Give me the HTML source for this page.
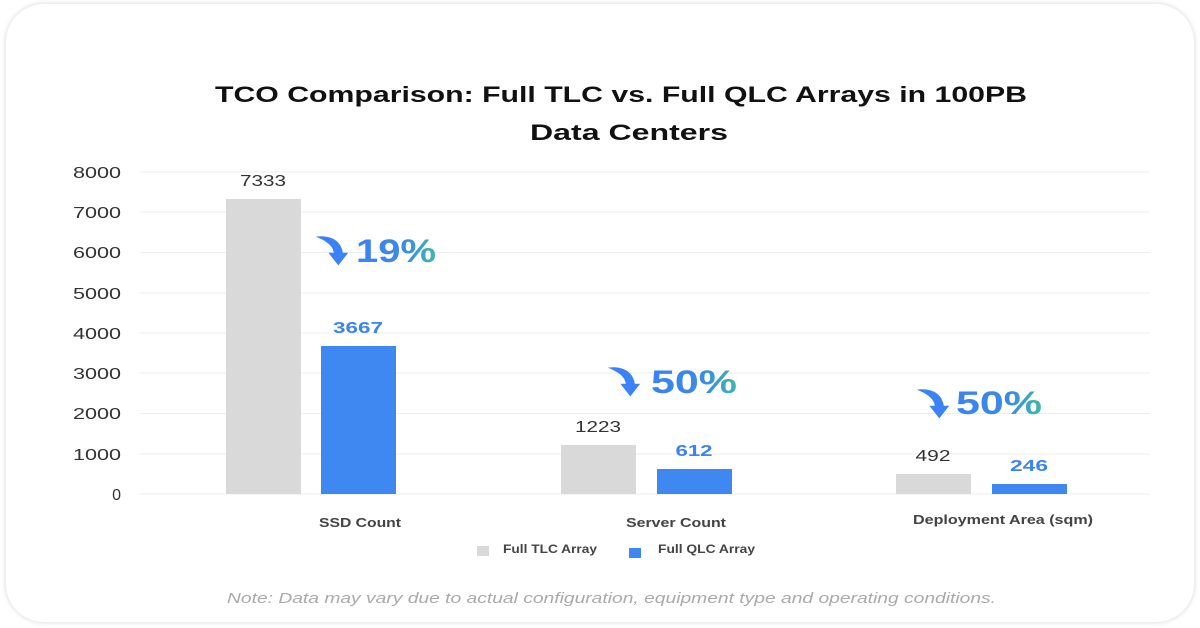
<!DOCTYPE html>
<html><head><meta charset="utf-8"><style>
body{margin:0;width:1200px;height:628px;background:#fff;overflow:hidden;font-family:"Liberation Sans",sans-serif}
.card{position:absolute;left:6px;top:4px;width:1188px;height:618px;border-radius:38px;box-shadow:0 0 4px 1px rgba(0,0,0,0.12);background:#fff}
</style></head><body>
<div class="card"></div>
<svg width="1200" height="628" style="position:absolute;left:0;top:0" font-family="Liberation Sans, sans-serif">
<defs>
<linearGradient id="g" x1="0" x2="1" y1="0" y2="0"><stop offset="0" stop-color="#3b82f6"/><stop offset="0.6" stop-color="#3b8ae6"/><stop offset="1" stop-color="#3fb8a8"/></linearGradient>
<symbol id="arr" viewBox="0 0 40 40"><path d="M2 4 C18 2 30 8 32 22 L38 22 L27 36 L16 22 L22 22 C21 14 14 9 2 4Z" fill="#3b82f6"/></symbol>
</defs>
<text x="215" y="102" textLength="812" lengthAdjust="spacingAndGlyphs" font-size="22" font-weight="bold" fill="#111">TCO Comparison: Full TLC vs. Full QLC Arrays in 100PB</text>
<text x="530" y="140" textLength="198" lengthAdjust="spacingAndGlyphs" font-size="22" font-weight="bold" fill="#111">Data Centers</text>
<g stroke="#eeeeee" stroke-width="1">
<line x1="140" x2="1150" y1="172" y2="172"/><line x1="140" x2="1150" y1="212" y2="212"/><line x1="140" x2="1150" y1="252.5" y2="252.5"/><line x1="140" x2="1150" y1="293" y2="293"/><line x1="140" x2="1150" y1="333" y2="333"/><line x1="140" x2="1150" y1="373" y2="373"/><line x1="140" x2="1150" y1="413.5" y2="413.5"/><line x1="140" x2="1150" y1="454" y2="454"/><line x1="140" x2="1150" y1="494" y2="494"/>
</g>
<g font-size="16" fill="#333" text-anchor="end">
<text x="121" y="178" textLength="48" lengthAdjust="spacingAndGlyphs">8000</text><text x="121" y="218" textLength="48" lengthAdjust="spacingAndGlyphs">7000</text><text x="121" y="258" textLength="48" lengthAdjust="spacingAndGlyphs">6000</text><text x="121" y="299" textLength="48" lengthAdjust="spacingAndGlyphs">5000</text><text x="121" y="339" textLength="48" lengthAdjust="spacingAndGlyphs">4000</text><text x="121" y="379" textLength="48" lengthAdjust="spacingAndGlyphs">3000</text><text x="121" y="419" textLength="48" lengthAdjust="spacingAndGlyphs">2000</text><text x="121" y="460" textLength="48" lengthAdjust="spacingAndGlyphs">1000</text><text x="121" y="500">0</text>
</g>
<g fill="#d9d9d9"><rect x="226" y="199" width="75" height="295"/><rect x="561" y="445" width="75" height="49"/><rect x="896" y="474" width="75" height="20"/></g>
<g fill="#3f88f2"><rect x="321" y="346" width="75" height="148"/><rect x="657" y="469" width="75" height="25"/><rect x="992" y="484" width="75" height="10"/></g>
<g font-size="16" fill="#333" text-anchor="middle">
<text x="263" y="186" textLength="46" lengthAdjust="spacingAndGlyphs">7333</text><text x="598" y="432" textLength="46" lengthAdjust="spacingAndGlyphs">1223</text><text x="933" y="461" textLength="35" lengthAdjust="spacingAndGlyphs">492</text></g>
<g font-size="16" fill="#3b82f6" font-weight="bold" text-anchor="middle">
<text x="358" y="333" textLength="50" lengthAdjust="spacingAndGlyphs">3667</text><text x="694" y="456" textLength="37" lengthAdjust="spacingAndGlyphs">612</text><text x="1029" y="471" textLength="38" lengthAdjust="spacingAndGlyphs">246</text></g>
<use href="#arr" x="314" y="233" width="36" height="36"/>
<use href="#arr" x="606" y="364" width="36" height="36"/>
<use href="#arr" x="915" y="386" width="36" height="36"/>
<g font-size="32" font-weight="bold" fill="url(#g)">
<text x="356" y="262" textLength="80" lengthAdjust="spacingAndGlyphs">19%</text><text x="651" y="393" textLength="86" lengthAdjust="spacingAndGlyphs">50%</text><text x="956" y="414" textLength="86" lengthAdjust="spacingAndGlyphs">50%</text></g>
<g font-size="13" font-weight="bold" fill="#444">
<text x="319" y="527" textLength="82" lengthAdjust="spacingAndGlyphs">SSD Count</text><text x="626" y="527" textLength="100" lengthAdjust="spacingAndGlyphs">Server Count</text><text x="913" y="524" textLength="180" lengthAdjust="spacingAndGlyphs">Deployment Area (sqm)</text></g>
<rect x="477" y="546" width="12" height="10" fill="#d9d9d9"/><text x="503" y="553" font-size="12" font-weight="bold" fill="#444" textLength="94" lengthAdjust="spacingAndGlyphs">Full TLC Array</text>
<rect x="629" y="548" width="12" height="10" fill="#3f88f2"/><text x="658" y="553" font-size="12" font-weight="bold" fill="#444" textLength="97" lengthAdjust="spacingAndGlyphs">Full QLC Array</text>
<text x="227" y="603" font-size="15" font-style="italic" fill="#aaa" textLength="769" lengthAdjust="spacingAndGlyphs">Note: Data may vary due to actual configuration, equipment type and operating conditions.</text>
</svg>
</body></html>
